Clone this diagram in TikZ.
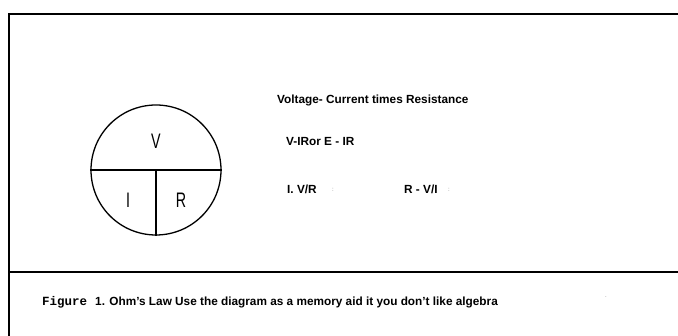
\documentclass[tikz,border=0pt]{standalone}
\usepackage{fontspec}
\setmainfont{Liberation Sans}
\setmonofont{Liberation Mono}
\begin{document}
\begin{tikzpicture}[x=1pt,y=-1pt,
  frame/.style={line width=2.6pt},
  circ/.style={line width=1.3pt},
  letter/.style={font=\fontsize{21}{21}\selectfont, xscale=0.68, inner sep=0pt},
  txt/.style={font=\fontsize{11.8}{13}\selectfont\bfseries, anchor=west, inner sep=0pt},
  tick/.style={font=\fontsize{6}{6}\selectfont, text=gray, inner sep=0pt}]
\useasboundingbox (0,0) rectangle (678,336);
% frame
\coordinate (tl) at (9,14);
\coordinate (tr) at (678,14);
\coordinate (bl) at (9,336);
\coordinate (ml) at (9,272);
\coordinate (mr) at (678,272);
\draw[frame] (tr) -- (tl) -- (bl);
\draw[frame] (ml) -- (mr);
% circle
\node[circle, circ, draw, minimum size=130pt, inner sep=0pt] (c) at (156,170) {};
\draw[circ] (c.west) -- (c.east);
\draw[circ] (c.center) -- (c.south);
\node[letter] (v) at (156,141) {V};
\node[letter] (i) at (128,200) {I};
\node[letter] (r) at (181,200) {R};
% texts
\node[txt] (t1) at (277,100) {Voltage- Current times Resistance};
\node[txt] (t2) at (286,142) {V-IRor E - IR};
\node[txt] (t3) at (287,189) {I. V/R};
\node[tick] (k1) at (333,190) {:};
\node[txt] (t4) at (404,189) {R - V/I};
\node[tick] (k2) at (449,190) {:};
\node[txt] (cap) at (42,302)
  {{\ttfamily\fontsize{12.5}{13}\selectfont Figure}\hspace{8pt}1. Ohm's Law Use the diagram as a memory aid it you don't like algebra};
\node[tick] (dot) at (606,297) {.};
\end{tikzpicture}
\end{document}
